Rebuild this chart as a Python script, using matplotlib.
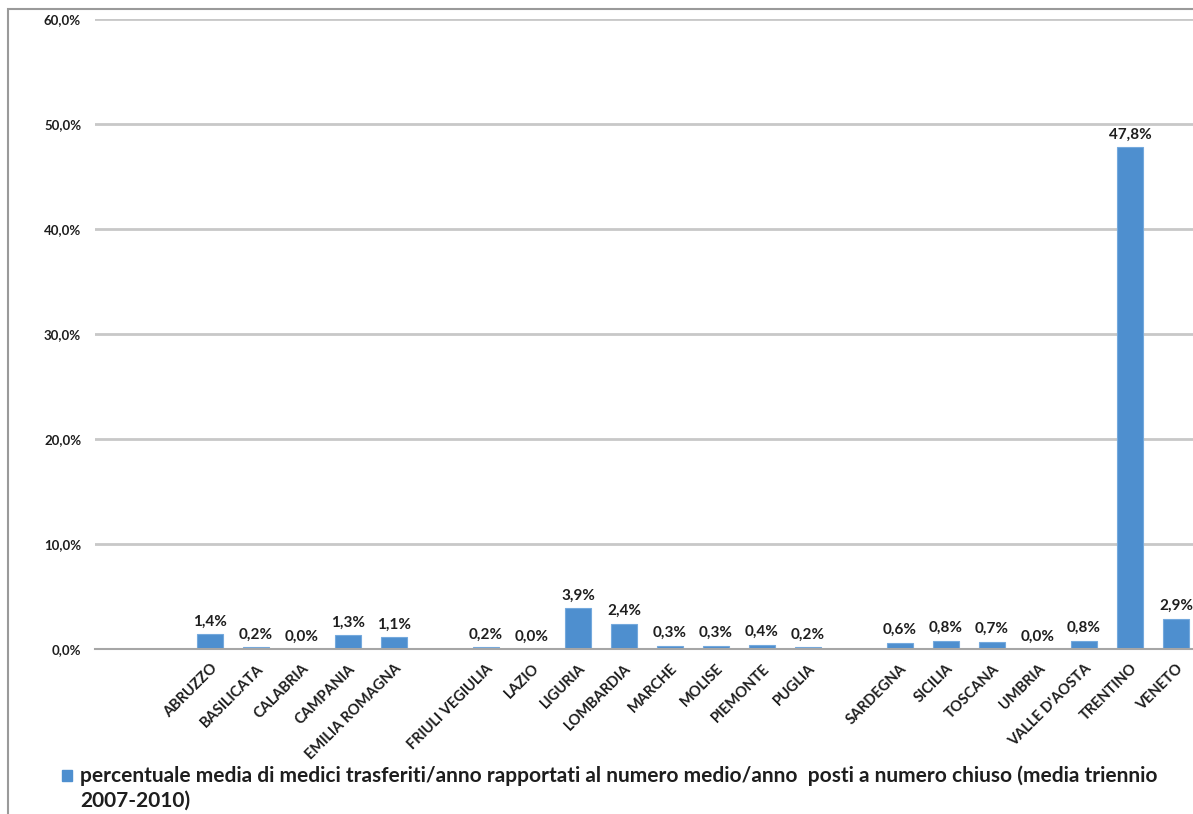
import matplotlib
matplotlib.use("Agg")
import matplotlib.pyplot as plt
from matplotlib.patches import Rectangle

# regions (blank entries keep the gaps between the groups)
regioni = ['', '', 'ABRUZZO', 'BASILICATA', 'CALABRIA', 'CAMPANIA', 'EMILIA ROMAGNA', '',
           'FRIULI VEGIULIA', 'LAZIO', 'LIGURIA', 'LOMBARDIA', 'MARCHE', 'MOLISE', 'PIEMONTE',
           'PUGLIA', '', 'SARDEGNA', 'SICILIA', 'TOSCANA', 'UMBRIA', "VALLE D'AOSTA",
           'TRENTINO', 'VENETO']
percentuali = [None, None, 1.4, 0.2, 0.0, 1.3, 1.1, None,
               0.2, 0.0, 3.9, 2.4, 0.3, 0.3, 0.4,
               0.2, None, 0.6, 0.8, 0.7, 0.0, 0.8,
               47.8, 2.9]
yticks = [0, 10, 20, 30, 40, 50, 60]
legenda = ('percentuale media di medici trasferiti/anno rapportati al numero medio/anno  '
           'posti a numero chiuso (media triennio\n2007-2010)')

plt.rcParams['font.family'] = ['Lato', 'DejaVu Sans']
plt.rcParams['font.weight'] = 'bold'
text_col = '#1E1E1E'
bar_col = '#4E8FCF'

W, H = 1193, 814
fig = plt.figure(figsize=(W / 100, H / 100), dpi=100)
ax = fig.add_axes([95 / W, 165 / H, 1104 / W, 630 / H])

xs = [i for i, v in enumerate(percentuali) if v is not None]
vals = [v for v in percentuali if v is not None]
ax.bar(xs, vals, width=0.56, color=bar_col, edgecolor='#74A9DD', linewidth=0.8, zorder=3)

for x, v in zip(xs, vals):
    ax.annotate(f'{v:.1f}%'.replace('.', ','), (x, v), xytext=(0, 4), textcoords='offset points',
                ha='center', va='bottom', fontsize=11, fontweight='bold', color=text_col)

ax.set_xlim(-0.5, len(regioni) - 0.5)
ax.set_ylim(0, 60)
ax.set_yticks(yticks)
ax.set_yticklabels([f'{t},0%' for t in yticks], fontsize=9.5, fontweight='bold', color=text_col)
ax.yaxis.grid(True, color='#C8C8C8', linewidth=2, zorder=0)
ax.tick_params(axis='y', length=0, pad=10)
ax.tick_params(axis='x', length=0, pad=9)
ax.set_xticks(range(len(regioni)))
ax.set_xticklabels(regioni, rotation=45, ha='right', rotation_mode='anchor',
                   fontsize=10.5, fontweight='bold', color=text_col)
for s in ['top', 'right', 'left']:
    ax.spines[s].set_visible(False)
ax.spines['bottom'].set_color('#A6A6A6')
ax.spines['bottom'].set_linewidth(1.5)
ax.spines['bottom'].set_zorder(4)

# legend entry below the chart
fig.patches.append(Rectangle((62 / W, (H - 781) / H), 10 / W, 11 / H,
                             transform=fig.transFigure, color=bar_col))
fig.text(80 / W, (H - 765) / H, legenda, ha='left', va='top', fontsize=15,
         fontweight='bold', color=text_col, linespacing=1.3)

# outer frame
fig.patches.append(Rectangle((8 / W, -0.1), 1.2, (H - 9) / H + 0.1, transform=fig.transFigure,
                             fill=False, edgecolor='#9A9A9A', linewidth=1.5))

fig.savefig('out.png', dpi=100)
